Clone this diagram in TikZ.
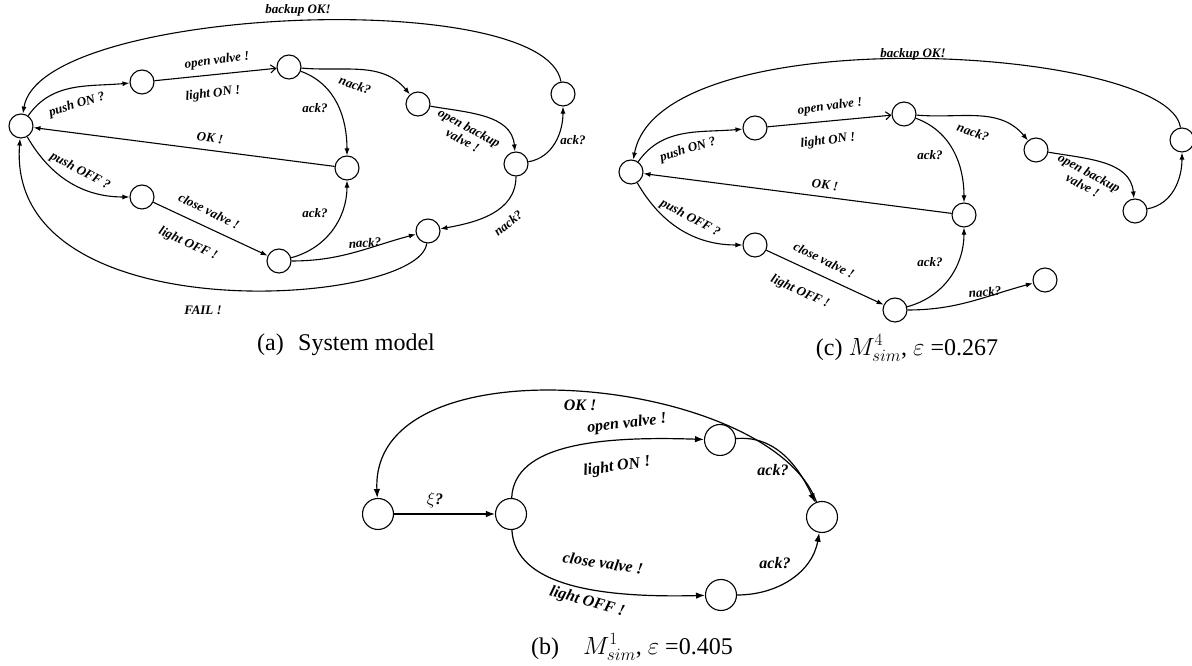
\documentclass[tikz,border=0pt]{standalone}
\usepackage{fontspec}
\setmainfont{Liberation Serif}
\usetikzlibrary{arrows.meta}
\newcommand{\lblfont}{\fontsize{13}{14}\selectfont\bfseries\itshape}
\newcommand{\biglblfont}{\fontsize{16}{17}\selectfont\bfseries\itshape}
\newcommand{\capfont}{\fontsize{24}{26}\selectfont}
\tikzset{
  state/.style={circle,draw,line width=1.1pt,minimum size=24pt,inner sep=0pt},
  bigstate/.style={state,minimum size=31pt},
  trans/.style={line width=1.1pt,-{Latex[length=7pt,width=5pt]}},
  opentrans/.style={line width=1.1pt,-{Straight Barb[length=5pt,width=8pt]}},
  bigtrans/.style={line width=1.2pt,-{Latex[length=9pt,width=6.5pt]}},
  lbl/.style={font=\lblfont,inner sep=0pt},
  biglbl/.style={font=\biglblfont,inner sep=0pt},
  captext/.style={font=\capfont,inner sep=0pt}
}
\begin{document}
\begin{tikzpicture}[x=1pt,y=1pt]
  \useasboundingbox (0,0) rectangle (1192,666);
  % (a) system model
  \node[state] (a0) at (21,540) {};
  \node[state] (a1) at (142,584) {};
  \node[state] (a2) at (289,599) {};
  \node[state] (a3) at (418,562) {};
  \node[state] (a4) at (516,502) {};
  \node[state] (a5) at (563,572) {};
  \node[state] (a6) at (347,498) {};
  \node[state] (a7) at (142,469) {};
  \node[state] (a8) at (279,405) {};
  \node[state] (a9) at (428,435) {};
  \draw[trans] (a0) to[out=55,in=185] (a1);
  \draw[opentrans] (a1) -- (a2);
  \draw[trans] (a2) to[out=-5,in=130] (a3);
  \draw[trans] (a2) to[out=-20,in=90] (a6);
  \draw[trans] (a3) to[out=-10,in=95] (a4);
  \draw[trans] (a4) to[out=10,in=-90] (a5);
  \draw[trans] (a4) to[out=-90,in=10] (a9);
  \draw[trans] (a5) .. controls (545,680) and (40,660) .. (a0);
  \draw[trans] (a6) -- (a0);
  \draw[trans] (a0) to[out=-60,in=180] (a7);
  \draw[trans] (a7) -- (a8);
  \draw[trans] (a8) to[out=15,in=-90] (a6);
  \draw[trans] (a8) to[out=0,in=195] (a9);
  \draw[trans] (a9) .. controls (420,360) and (5,330) .. (a0);
  \node[lbl,rotate=17] (ta1) at (77,561) {push ON ?};
  \node[lbl,rotate=7] (ta2) at (217,605) {open valve !};
  \node[lbl,rotate=7] (ta3) at (213,572) {light ON !};
  \node[lbl,rotate=-19] (ta4) at (355,581) {nack?};
  \node[lbl] (ta5) at (315,558) {ack?};
  \node[lbl,rotate=-28,align=center] (ta6) at (466,532) {open backup\\valve !};
  \node[lbl] (ta7) at (573,526) {ack?};
  \node[lbl,rotate=39] (ta8) at (508,443) {nack?};
  \node[lbl] (ta9) at (298,656) {backup OK!};
  \node[lbl,rotate=-6] (ta10) at (210,528) {OK !};
  \node[lbl,rotate=-28] (ta11) at (80,495) {push OFF ?};
  \node[lbl,rotate=-26] (ta12) at (209,455) {close valve !};
  \node[lbl,rotate=-25] (ta13) at (188,422) {light OFF !};
  \node[lbl] (ta14) at (315,453) {ack?};
  \node[lbl,rotate=3] (ta15) at (365,423) {nack?};
  \node[lbl] (ta16) at (203,356) {FAIL !};
  \node[captext,anchor=west] (capa) at (257,321) {(a)\hspace{0.6em}System model};
  % (c) M4
  \node[state] (c0) at (631,494) {};
  \node[state] (c1) at (755,538) {};
  \node[state] (c2) at (904,552) {};
  \node[state] (c3) at (1036,516) {};
  \node[state] (c4) at (1135,455) {};
  \node[state] (c5) at (1182,526) {};
  \node[state] (c6) at (964,451) {};
  \node[state] (c7) at (755,421) {};
  \node[state] (c8) at (895,356) {};
  \node[state] (c9) at (1045,386) {};
  \draw[trans] (c0) to[out=55,in=185] (c1);
  \draw[opentrans] (c1) -- (c2);
  \draw[trans] (c2) to[out=-5,in=130] (c3);
  \draw[trans] (c2) to[out=-20,in=90] (c6);
  \draw[trans] (c3) to[out=-10,in=95] (c4);
  \draw[trans] (c4) to[out=10,in=-90] (c5);
  \draw[trans] (c5) .. controls (1170,620) and (660,650) .. (c0);
  \draw[trans] (c6) -- (c0);
  \draw[trans] (c0) to[out=-60,in=180] (c7);
  \draw[trans] (c7) -- (c8);
  \draw[trans] (c8) to[out=15,in=-90] (c6);
  \draw[trans] (c8) to[out=0,in=195] (c9);
  \node[lbl,rotate=17] (tc1) at (688,516) {push ON ?};
  \node[lbl,rotate=7] (tc2) at (830,559) {open valve !};
  \node[lbl,rotate=7] (tc3) at (828,525) {light ON !};
  \node[lbl,rotate=-19] (tc4) at (973,534) {nack?};
  \node[lbl] (tc5) at (930,511) {ack?};
  \node[lbl,rotate=-28,align=center] (tc6) at (1086,487) {open backup\\valve !};
  \node[lbl] (tc7) at (913,612) {backup OK!};
  \node[lbl,rotate=-6] (tc8) at (825,481) {OK !};
  \node[lbl,rotate=-28] (tc9) at (690,448) {push OFF ?};
  \node[lbl,rotate=-26] (tc10) at (824,406) {close valve !};
  \node[lbl,rotate=-25] (tc11) at (800,374) {light OFF !};
  \node[lbl] (tc12) at (930,404) {ack?};
  \node[lbl,rotate=5] (tc13) at (985,374) {nack?};
  \node[captext] (capc) at (907,318) {(c) $M_{sim}^{4}$, $\varepsilon$ =0.267};
  % (b) M1
  \node[bigstate] (b0) at (378,152) {};
  \node[bigstate] (b1) at (511,152) {};
  \node[bigstate] (b2) at (720,226) {};
  \node[bigstate] (b3) at (721,71) {};
  \node[bigstate] (b4) at (822,149) {};
  \draw[bigtrans] (b0) -- (b1);
  \draw[bigtrans] (b1) .. controls (514,222) and (600,230) .. (b2);
  \draw[bigtrans] (b1) .. controls (515,80) and (600,68) .. (b3);
  \draw[bigtrans] (b2) to[out=5,in=115] (b4);
  \draw[bigtrans] (b3) to[out=0,in=-100] (b4);
  \draw[bigtrans] (b4) .. controls (770,290) and (370,330) .. (b0);
  \node[biglbl] (tb1) at (580,261) {OK !};
  \node[biglbl] (tb2) at (435,166) {$\xi$?};
  \node[biglbl,rotate=7] (tb3) at (627,242) {open valve !};
  \node[biglbl,rotate=8] (tb4) at (617,199) {light ON !};
  \node[biglbl,rotate=-9] (tb5) at (603,103) {close valve !};
  \node[biglbl,rotate=-16] (tb6) at (587,64) {light OFF !};
  \node[biglbl] (tb7) at (773,196) {ack?};
  \node[biglbl] (tb8) at (775,103) {ack?};
  \node[captext] (capb) at (632,19) {(b)\hspace{1em}$M_{sim}^{1}$, $\varepsilon$ =0.405};
\end{tikzpicture}
\end{document}
